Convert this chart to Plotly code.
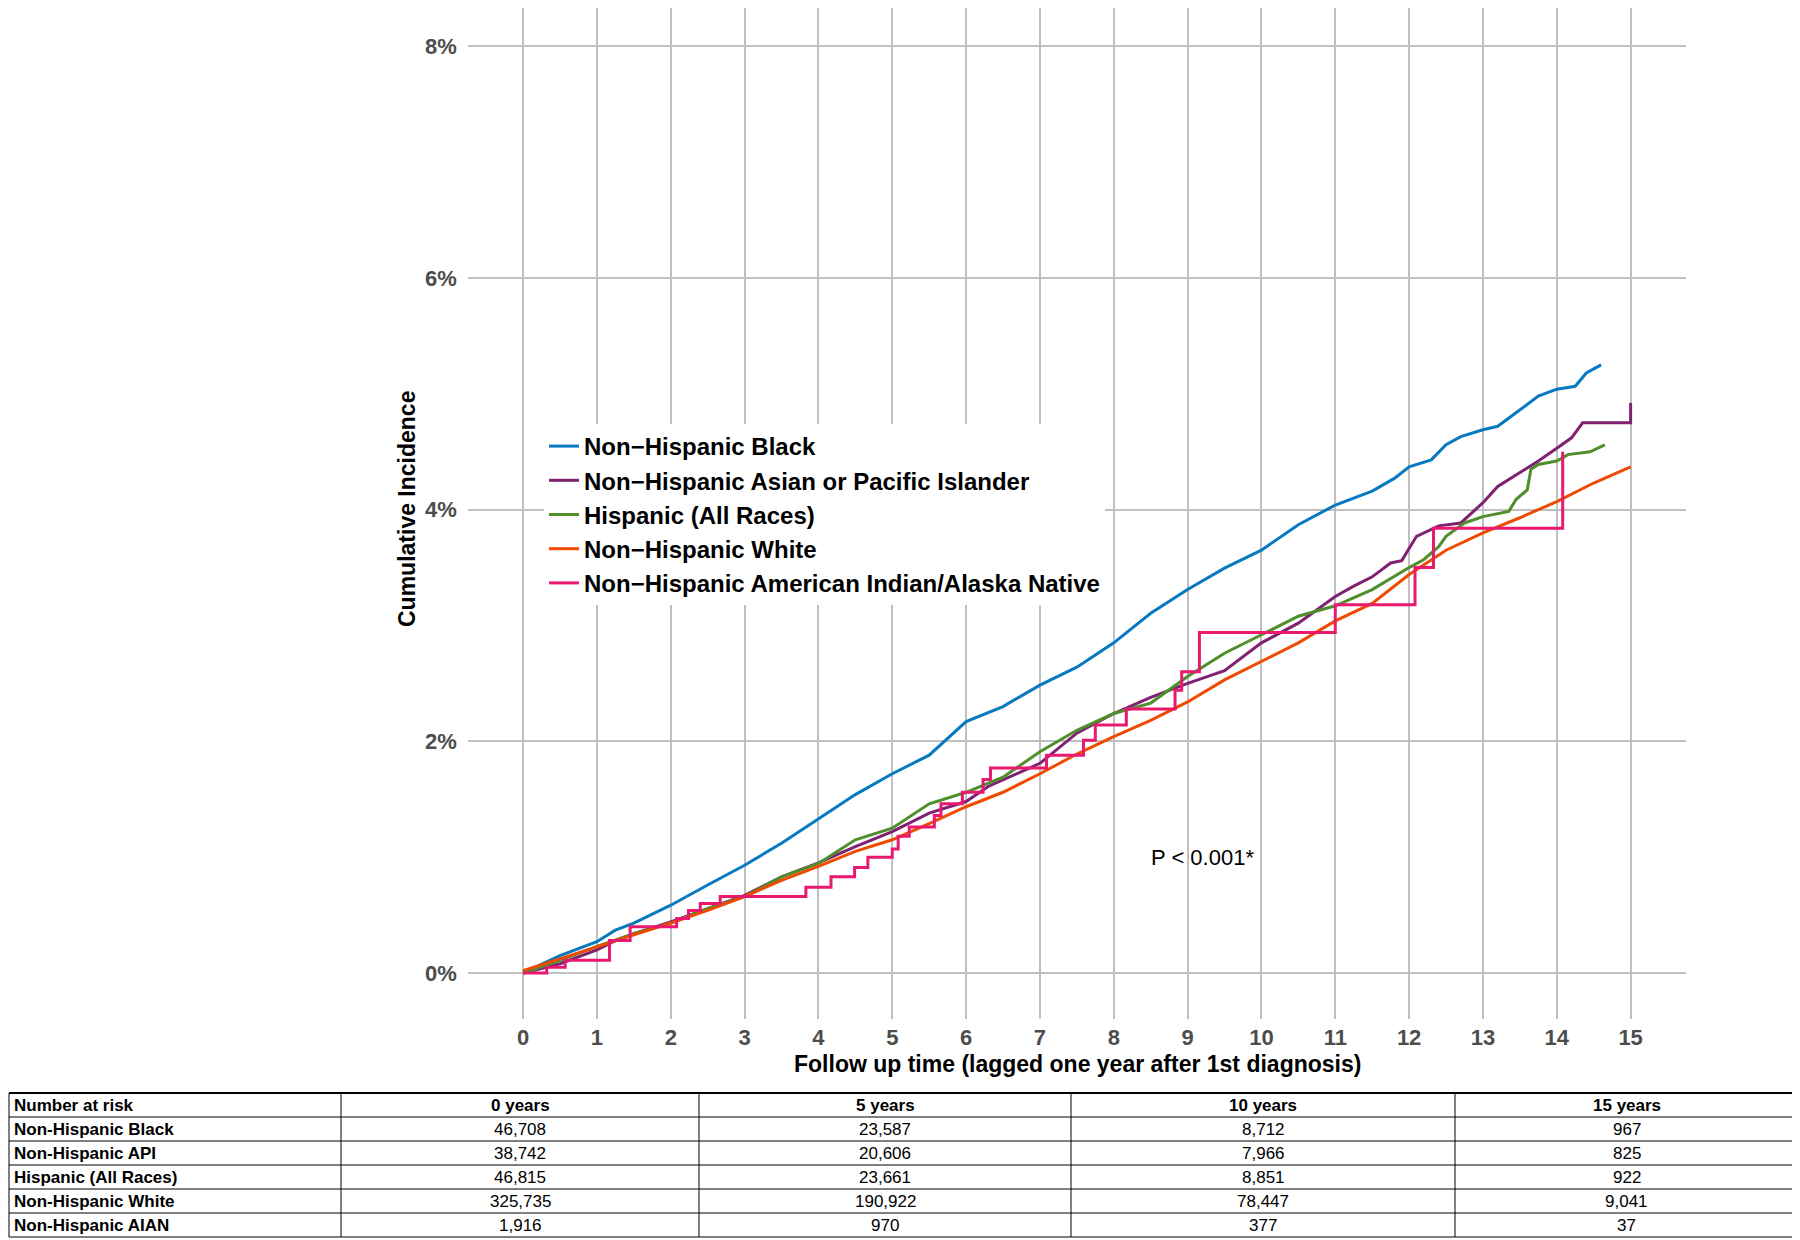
import plotly.graph_objects as go

# cumulative incidence (%), by follow-up year
black_t = [0, 0.5, 1, 1.25, 1.5, 2, 2.5, 3, 3.5, 4, 4.5, 5, 5.5, 6, 6.5, 7, 7.5, 8, 8.5, 9,
           9.5, 10, 10.5, 11, 11.5, 11.8, 12, 12.3, 12.5, 12.7, 13, 13.2, 13.5, 13.75, 14,
           14.25, 14.4, 14.6]
black_y = [0, 0.15, 0.27, 0.37, 0.43, 0.585, 0.76, 0.93, 1.12, 1.33, 1.54, 1.72, 1.88, 2.17,
           2.30, 2.485, 2.64, 2.85, 3.105, 3.31, 3.495, 3.65, 3.87, 4.04, 4.16, 4.27, 4.37,
           4.43, 4.56, 4.63, 4.69, 4.72, 4.86, 4.98, 5.04, 5.065, 5.18, 5.25]

api_t = [0, 0.5, 1, 1.25, 1.5, 2, 2.5, 3, 3.5, 4, 4.5, 5, 5.5, 6, 6.3, 7, 7.5, 8, 8.5, 9,
         9.5, 10, 10.5, 11, 11.25, 11.5, 11.75, 11.9, 12.1, 12.4, 12.7, 13, 13.2, 13.5,
         13.75, 14, 14.2, 14.35, 15, 15]
api_y = [0, 0.08, 0.20, 0.28, 0.34, 0.44, 0.556, 0.67, 0.83, 0.95, 1.09, 1.22, 1.38, 1.48,
         1.61, 1.81, 2.07, 2.24, 2.38, 2.50, 2.61, 2.85, 3.02, 3.25, 3.34, 3.42, 3.54, 3.56,
         3.77, 3.86, 3.885, 4.06, 4.20, 4.32, 4.42, 4.53, 4.62, 4.75, 4.75, 4.92]

hisp_t = [0, 0.5, 1, 1.5, 2, 2.5, 3, 3.5, 4, 4.5, 5, 5.5, 6, 6.5, 7, 7.5, 8, 8.5, 9, 9.5,
          10, 10.5, 11, 11.5, 12, 12.2, 12.4, 12.5, 12.75, 13, 13.35, 13.45, 13.6, 13.65,
          13.75, 14, 14.15, 14.45, 14.65]
hisp_y = [0, 0.11, 0.23, 0.34, 0.43, 0.556, 0.66, 0.83, 0.945, 1.15, 1.25, 1.46, 1.56, 1.69,
          1.91, 2.095, 2.24, 2.33, 2.56, 2.76, 2.92, 3.08, 3.17, 3.31, 3.50, 3.57, 3.68,
          3.77, 3.885, 3.94, 3.985, 4.09, 4.17, 4.35, 4.39, 4.42, 4.475, 4.50, 4.56]

white_t = [0, 0.5, 1, 1.5, 2, 2.5, 3, 3.5, 4, 4.5, 5, 5.5, 6, 6.5, 7, 7.5, 8, 8.5, 9, 9.5,
           10, 10.5, 11, 11.5, 12, 12.5, 13, 13.5, 14, 14.5, 15]
white_y = [0.02, 0.12, 0.225, 0.33, 0.43, 0.54, 0.66, 0.80, 0.92, 1.05, 1.15, 1.29, 1.435,
           1.56, 1.72, 1.89, 2.04, 2.18, 2.34, 2.53, 2.69, 2.85, 3.04, 3.19, 3.44, 3.65,
           3.80, 3.93, 4.07, 4.23, 4.37]

# AIAN has few events, so keep its steps
aian_t = [0, 0.32, 0.57, 1.17, 1.45, 2.08, 2.24, 2.4, 2.67, 3.83, 4.17, 4.49, 4.67, 5.0,
          5.08, 5.23, 5.57, 5.66, 5.95, 6.23, 6.33, 7.09, 7.59, 7.75, 8.17, 8.83, 8.92,
          9.16, 11.0, 12.08, 12.33, 14.08]
aian_y = [0, 0.05, 0.11, 0.28, 0.40, 0.47, 0.54, 0.60, 0.66, 0.74, 0.83, 0.91, 1.0, 1.07,
          1.18, 1.26, 1.36, 1.46, 1.56, 1.67, 1.77, 1.88, 2.01, 2.14, 2.28, 2.44, 2.60,
          2.94, 3.18, 3.50, 3.84, 4.5]

legend_names = [
    "Non\u2212Hispanic Black",
    "Non\u2212Hispanic Asian or Pacific Islander",
    "Hispanic (All Races)",
    "Non\u2212Hispanic White",
    "Non\u2212Hispanic American Indian/Alaska Native",
]
colors = ["#0679c1", "#7f2171", "#4e8f2c", "#ee4b00", "#e8196f"]

# number at risk table
risk_header = ["Number at risk", "0 years", "5 years", "10 years", "15 years"]
risk_groups = ["Non-Hispanic Black", "Non-Hispanic API", "Hispanic (All Races)",
               "Non-Hispanic White", "Non-Hispanic AIAN"]
risk_0 = ["46,708", "38,742", "46,815", "325,735", "1,916"]
risk_5 = ["23,587", "20,606", "23,661", "190,922", "970"]
risk_10 = ["8,712", "7,966", "8,851", "78,447", "377"]
risk_15 = ["967", "825", "922", "9,041", "37"]

x_ticks = list(range(0, 16))
y_ticks = [0, 2, 4, 6, 8]

FONT = "Liberation Sans, Arial, sans-serif"
# the page body adds an 8px margin, so the figure is 8px smaller and
# positions below are given in screen pixels minus that offset
OFF = 8
W, H = 1800 - OFF, 1240 - OFF


def px(x):
    return (x - OFF) / W


def py(y):
    return 1 - (y - OFF) / H


fig = go.Figure()

series = [
    (black_t, black_y, "linear"),
    (api_t, api_y, "linear"),
    (hisp_t, hisp_y, "linear"),
    (white_t, white_y, "linear"),
    (aian_t, aian_y, "hv"),
]
for (t, y, shape), name, col in zip(series, legend_names, colors):
    fig.add_trace(
        go.Scatter(
            x=t,
            y=y,
            mode="lines",
            name=name,
            line=dict(color=col, width=3, shape=shape),
            hoverinfo="skip",
        )
    )

# table drawn by hand: plotly's go.Table pads rows too much
col_edges = [OFF + 1, 341, 699, 1071, 1455, 1798]
row_edges = [1093, 1117, 1141, 1165, 1189, 1213, 1237]
shapes = []
for ye in row_edges:
    shapes.append(dict(type="line", xref="paper", yref="paper",
                       x0=px(col_edges[0]), x1=px(col_edges[-1]), y0=py(ye), y1=py(ye),
                       line=dict(color="black", width=2 if ye == row_edges[0] else 1)))
for xe in col_edges:
    shapes.append(dict(type="line", xref="paper", yref="paper",
                       x0=px(xe), x1=px(xe), y0=py(row_edges[0]), y1=py(row_edges[-1]),
                       line=dict(color="black", width=1)))

annotations = []
table_cols = [risk_groups, risk_0, risk_5, risk_10, risk_15]
for c, head in enumerate(risk_header):
    rows = [head] + table_cols[c]
    for r, txt in enumerate(rows):
        yc = (row_edges[r] + row_edges[r + 1]) / 2
        bold = r == 0 or c == 0
        if c == 0:
            xa, xpos = "left", col_edges[0] + 3
        else:
            xa, xpos = "center", (col_edges[c] + col_edges[c + 1]) / 2
        annotations.append(dict(
            text=txt, xref="paper", yref="paper", x=px(xpos), y=py(yc),
            xanchor=xa, yanchor="middle", showarrow=False,
            font=dict(family=FONT, size=17, color="black",
                      weight="bold" if bold else "normal"),
        ))

annotations += [
    dict(
        text="Cumulative Incidence",
        xref="paper", yref="paper",
        x=px(407), y=py(509),
        xanchor="center", yanchor="middle",
        textangle=-90,
        showarrow=False,
        font=dict(family=FONT, size=23, color="black", weight="bold"),
    ),
    dict(
        text="Follow up time (lagged one year after 1st diagnosis)",
        xref="paper", yref="paper",
        x=px(1077), y=py(1064),
        xanchor="center", yanchor="middle",
        showarrow=False,
        font=dict(family=FONT, size=23, color="black", weight="bold"),
    ),
    dict(
        text="P < 0.001*",
        xref="x", yref="y",
        x=9.2, y=1.0,
        xanchor="center", yanchor="middle",
        showarrow=False,
        font=dict(family=FONT, size=22, color="black"),
    ),
]

axis_font = dict(family=FONT, size=22, color="#4d4d4d", weight="bold")
grid_col = "#c0c0c0"

# y range: ggplot-style 5% expansion of 0..8, clipped to the top of the page
y_top = 8.4 - OFF / 115.85

fig.update_layout(
    width=W,
    height=H,
    margin=dict(l=0, r=0, t=0, b=0),
    paper_bgcolor="white",
    plot_bgcolor="white",
    font=dict(family=FONT, color="black"),
    xaxis=dict(
        domain=[px(467.7), px(1686)],
        range=[-0.75, 15.75],
        tickvals=x_ticks,
        tickfont=axis_font,
        showgrid=True,
        gridcolor=grid_col,
        gridwidth=2,
        zeroline=False,
        showline=False,
        ticks="",
        ticklabelstandoff=3,
        automargin=False,
    ),
    yaxis=dict(
        domain=[py(1019.3), 1],
        range=[-0.4, y_top],
        tickvals=y_ticks,
        ticktext=["%d%%" % v for v in y_ticks],
        tickfont=axis_font,
        showgrid=True,
        gridcolor=grid_col,
        gridwidth=2,
        zeroline=False,
        showline=False,
        ticks="",
        ticklabelstandoff=10,
        automargin=False,
    ),
    legend=dict(
        x=px(544),
        y=py(424),
        xanchor="left",
        yanchor="top",
        bgcolor="white",
        borderwidth=0,
        font=dict(family=FONT, size=24, color="black", weight="bold"),
        itemwidth=30,
    ),
    shapes=shapes,
    annotations=annotations,
)

fig.write_html("out.html")
